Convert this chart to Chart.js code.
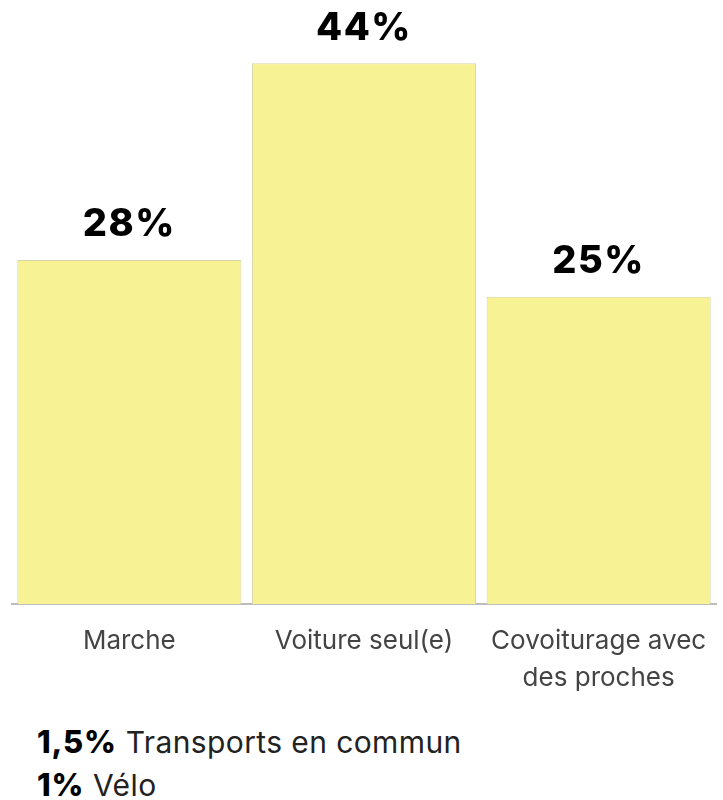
<!DOCTYPE html>
<html>
<head>
<meta charset="utf-8">
<script src="https://cdn.jsdelivr.net/npm/chart.js@4.4.1/dist/chart.umd.min.js"></script>
<style>
  body { margin: 0; background: #fff; font-family: Inter, "Noto Sans", sans-serif; }
  #wrap { position: relative; width: 723px; height: 707px; }
  .minor { position: absolute; left: 37px; font-size: 30px; color: #222; letter-spacing: 0.4px; line-height: 36px; }
  .minor b { font-weight: 800; color: #000; font-size: 31px; letter-spacing: 0.8px; }
</style>
</head>
<body>
<div id="wrap"><canvas id="modes"></canvas></div>
<div id="minor1" class="minor" style="top:724px"></div>
<div id="minor2" class="minor" style="top:767px"></div>
<script>
const categories = [['Marche'], ['Voiture seul(e)'], ['Covoiturage avec', 'des proches']];
const shares = [28, 44, 25];
const minorLabels = ['Transports en commun', 'Vélo'];
const minorShares = [1.5, 1];

const fmt = v => v.toLocaleString('fr-FR') + '%';

minorLabels.forEach((lab, i) => {
  document.getElementById('minor' + (i + 1)).innerHTML = '<b>' + fmt(minorShares[i]) + '</b> ' + lab;
});

const valueLabels = {
  id: 'valueLabels',
  afterDatasetsDraw(chart) {
    const ctx = chart.ctx;
    ctx.save();
    ctx.font = '800 38px Inter';
    ctx.letterSpacing = '1.5px';
    ctx.fillStyle = '#000';
    ctx.textAlign = 'center';
    ctx.textBaseline = 'middle';
    chart.getDatasetMeta(0).data.forEach((bar, i) => {
      ctx.fillText(fmt(shares[i]), bar.x, bar.y - 35);
    });
    ctx.restore();
  }
};

const ctx = document.getElementById('modes');
new Chart(ctx, {
  type: 'bar',
  data: {
    labels: categories,
    datasets: [{
      data: shares,
      backgroundColor: '#f7f293',
      borderColor: '#d6d3a6',
      borderWidth: 1,
      barPercentage: 0.955,
      categoryPercentage: 1
    }]
  },
  options: {
    responsive: true,
    maintainAspectRatio: false,
    animation: false,
    layout: { padding: { top: 14, left: 12, right: 7, bottom: 0 } },
    plugins: { legend: { display: false }, tooltip: { enabled: false } },
    scales: {
      x: {
        grid: { display: false },
        border: { color: '#bdbdbd', width: 2 },
        ticks: {
          color: '#444',
          padding: 11,
          maxRotation: 0,
          font: { family: 'Inter', size: 26, lineHeight: 1.4 }
        }
      },
      y: { display: false, min: 0, max: 48 }
    }
  },
  plugins: [valueLabels]
});
</script>
</body>
</html>
